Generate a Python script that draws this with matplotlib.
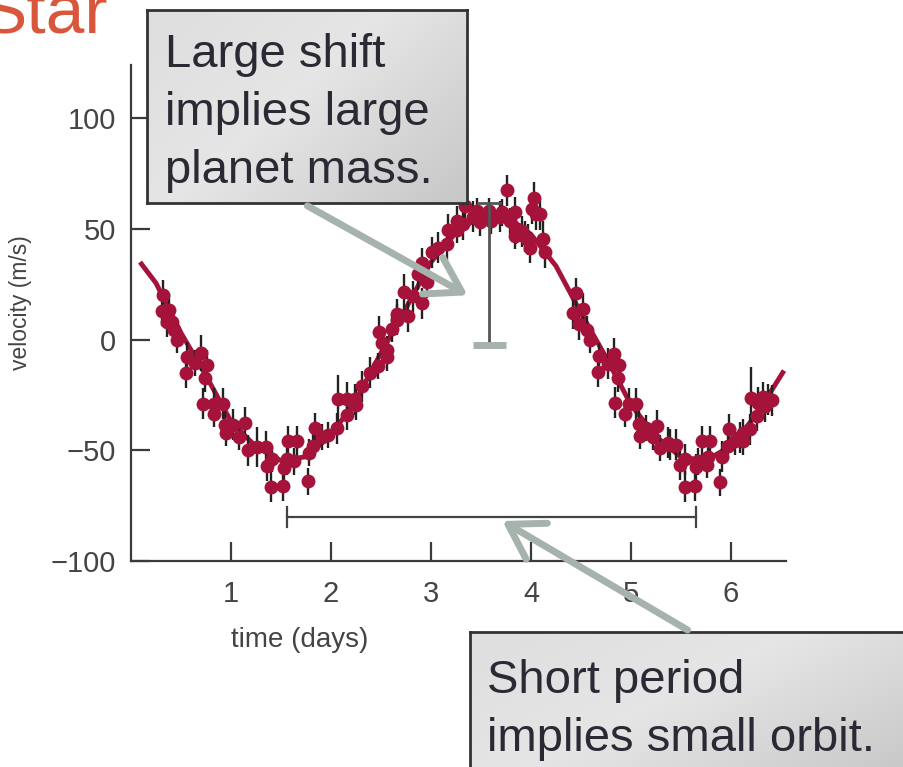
import numpy as np
import matplotlib
matplotlib.use("Agg")
import matplotlib.pyplot as plt
from matplotlib.patches import FancyArrowPatch

plt.rcParams['font.family'] = ['Liberation Sans', 'DejaVu Sans']

time_days = [0.32, 0.31, 0.38, 0.36, 0.41, 0.43, 0.46, 0.56, 0.70, 0.64, 0.76, 0.55, 0.74,
             0.72, 0.83, 0.92, 0.83, 0.94, 1.02, 0.95, 1.08, 1.14, 1.17, 1.26, 1.35, 1.41,
             1.36, 1.40, 1.52, 1.53, 1.56, 1.57, 1.66, 1.63, 1.77, 1.78, 1.84, 1.82, 1.91,
             1.97, 2.06, 2.16, 2.07, 2.16, 2.24, 2.25, 2.31, 2.39, 2.47, 2.56, 2.56, 2.51,
             2.48, 2.61, 2.66, 2.66, 2.77, 2.73, 2.82, 2.91, 2.87, 2.96, 2.91, 3.01, 3.07,
             3.16, 3.17, 3.26, 3.26, 3.32, 3.34, 3.42, 3.46, 3.49, 3.58, 3.60, 3.69, 3.71,
             3.76, 3.84, 3.79, 3.85, 3.91, 3.84, 3.94, 3.97, 3.99, 4.03, 4.01, 4.05, 4.09,
             4.12, 4.14, 4.45, 4.42, 4.52, 4.48, 4.56, 4.59, 4.68, 4.67, 4.77, 4.83, 4.88,
             4.87, 4.84, 4.98, 5.05, 4.94, 5.08, 5.15, 5.09, 5.26, 5.22, 5.29, 5.37, 5.45,
             5.39, 5.49, 5.54, 5.54, 5.64, 5.65, 5.67, 5.71, 5.79, 5.76, 5.77, 5.89, 5.91,
             5.97, 5.98, 6.04, 6.09, 6.12, 6.12, 6.19, 6.20, 6.26, 6.27, 6.32, 6.34, 6.37,
             6.41]
velocity_ms = [20, 13, 13.5, 8, 8, 4.5, 0, -8, -6, -10.5, -11.5, -15, -17.5,
               -29, -29, -29, -33.5, -38.5, -38.5, -42, -44, -37.5, -50, -48.5, -48.5, -54,
               -57, -66.5, -66, -58, -54, -46, -46, -55, -64, -51, -40, -48, -44,
               -43, -40, -34, -27, -27, -27, -29.5, -21, -15, -12, -8, -4.5, -1.5,
               3.5, 5, 9, 11.5, 10.5, 21.5, 19.5, 16.5, 29.5, 26, 34.5, 39.5, 41.5,
               43, 49.5, 53.5, 49.5, 52, 60.5, 55.5, 58, 53, 58, 53.5, 55.5, 57.5,
               67.5, 57.5, 53.5, 50, 49, 47, 46.5, 45, 41.5, 64, 59, 56.5, 56.5,
               45.5, 39.5, 21, 12, 14, 7, 4.5, 0, -7.5, -14.5, -11, -6.5, -11.5,
               -17.5, -28.5, -29, -29, -33.5, -38, -40, -43.5, -39, -44, -49, -46.5, -47.5,
               -47.5, -56.5, -54, -66.5, -66, -57.5, -55, -46, -46, -56.5, -53, -64.5, -53,
               -48, -40.5, -46, -44, -46, -42, -40.5, -26.5, -34.5, -28.5, -26, -30, -27,
               -27.5]
velocity_err = [7, 7, 7, 7, 6, 6, 6, 7, 8, 6, 7, 7, 6,
                7, 7, 7, 6, 7, 7, 6, 6, 7, 7, 9, 7, 6,
                7, 7, 7, 6, 7, 7, 7, 6, 6, 6, 7, 6, 6,
                6, 7, 7, 11, 8, 7, 7, 7, 7, 6, 6, 6, 6,
                7, 6, 7, 7, 7, 8, 7, 7, 7, 7, 7, 7, 7,
                7, 7, 7, 6, 7, 7, 7, 6, 6, 6, 6, 7, 6,
                7, 7, 6, 7, 7, 6, 7, 7, 7, 7, 7, 7, 7,
                8, 7, 7, 7, 7, 7, 6, 6, 6, 7, 7, 7, 6,
                6, 7, 7, 7, 6, 6, 6, 6, 7, 6, 6, 7, 7,
                7, 7, 7, 7, 7, 6, 6, 7, 7, 6, 6, 6, 7,
                6, 7, 6, 7, 6, 6, 7, 14, 7, 7, 7, 7, 7,
                7]

# ---- fitted orbit curve ----
fit_time = [0.09, 0.25, 0.5, 0.75, 1.0, 1.25, 1.5, 1.75, 2.0, 2.25, 2.5, 2.75, 3.0, 3.25,
            3.5, 3.75, 4.0, 4.25, 4.5, 4.75, 5.0, 5.25, 5.5, 5.75, 6.0, 6.25, 6.53]
fit_velocity = [35, 25.5, 3, -16.3, -37, -48.4, -54.7, -52.9, -43.2, -27.3, -6, 14.2, 35,
                48.3, 56, 55.9, 47.5, 33.2, 12, -8, -29.5, -43.8, -53.1, -54.6, -48, -34.2, -14]

x_ticks = [1, 2, 3, 4, 5, 6]
y_ticks = [-100, -50, 0, 50, 100]

# shift and period markers
shift_t, shift_low, shift_high = 3.58, -2.3, 61.8
period_start, period_end, period_level = 1.56, 5.65, -80

RED = '#A5123A'
ARROW = '#A6B2AC'
DARK = '#3a3a3a'
W, H = 904, 767

fig = plt.figure(figsize=(W / 100, H / 100), dpi=100)
ax = fig.add_axes([131 / W, 1 - 561 / H, 655 / W, 496 / H])
ax.set_xlim(0, 6.55)
ax.set_ylim(-100, 124)
for s in ['top', 'right']:
    ax.spines[s].set_visible(False)
for s in ['left', 'bottom']:
    ax.spines[s].set_color(DARK)
    ax.spines[s].set_linewidth(1.6)
ax.set_xticks(x_ticks)
ax.set_yticks(y_ticks)
ax.tick_params(direction='in', length=14, width=1.6, color=DARK,
               labelsize=21, labelcolor='#444444')
ax.tick_params(axis='x', pad=14)
ax.tick_params(axis='y', pad=11)

ax.plot(fit_time, fit_velocity, color=RED, lw=3.5, zorder=2, solid_capstyle='butt',
        solid_joinstyle='round')
ax.errorbar(time_days, velocity_ms, yerr=velocity_err, fmt='none',
            ecolor='#222222', elinewidth=1.7, capsize=0, zorder=3)
ax.plot(time_days, velocity_ms, 'o', color=RED, ms=10, mec=RED, mew=0, zorder=4)

# shift bar
ax.plot([shift_t, shift_t], [shift_low, shift_high], color='#555555', lw=2, zorder=5)
ax.plot([shift_t - 0.11, shift_t + 0.11], [shift_high, shift_high], color='#555555', lw=2, zorder=5)
ax.plot([shift_t - 0.16, shift_t + 0.17], [shift_low, shift_low], color=ARROW, lw=5,
        zorder=5, solid_capstyle='butt')

# period bar
ax.plot([period_start, period_end], [period_level, period_level], color='#444444', lw=1.6)
for pt in (period_start, period_end):
    ax.plot([pt, pt], [period_level - 4.5, period_level + 4.5], color='#444444', lw=1.6)

# labels
fig.text(300 / W, 1 - 640 / H, 'time (days)', ha='center', va='center',
         fontsize=20, color='#444444')
fig.text(21 / W, 1 - 303 / H, 'velocity (m/s)', ha='center', va='center',
         rotation=90, fontsize=16.5, color='#444444')

# title fragment (cut at the top edge, as in the reference)
fig.text(108 / W, 1 - 33 / H, 'Star', ha='right', va='baseline', fontsize=50,
         color='#D9553C')


def gradient_box(x0, y0, x1, y1, lines, text_x, baselines):
    bax = fig.add_axes([x0 / W, 1 - y1 / H, (x1 - x0) / W, (y1 - y0) / H])
    xs = np.linspace(0, 1, 256)
    ys = np.linspace(0, 1, 64)
    X, Y = np.meshgrid(xs, ys)
    d = 0.6 * X + 0.4 * Y
    v = 0.90 - 0.12 * np.clip((d - 0.45) / 0.55, 0, 1) - 0.03 * np.clip((0.45 - d) / 0.45, 0, 1)
    img = np.dstack([v, v, v])
    bax.imshow(img, extent=[0, 1, 0, 1], aspect='auto', origin='upper', zorder=0)
    bax.set_xlim(0, 1)
    bax.set_ylim(0, 1)
    bax.set_xticks([])
    bax.set_yticks([])
    for s in bax.spines.values():
        s.set_color('#333333')
        s.set_linewidth(2)
    for line, b in zip(lines, baselines):
        bax.text((text_x - x0) / (x1 - x0), 1 - (b - y0) / (y1 - y0), line,
                 ha='left', va='baseline', fontsize=34, color='#2a2a35',
                 transform=bax.transAxes)
    return bax


gradient_box(147, 10, 467, 203, ['Large shift', 'implies large', 'planet mass.'], 165,
             [67, 125, 183])
gradient_box(470, 632, 905, 780, ['Short period', 'implies small orbit.'], 487,
             [693, 751])

# arrows
a1 = FancyArrowPatch((1.74, 61), (3.39, 19.4), transform=ax.transData,
                     arrowstyle='->,head_length=1.2,head_width=0.75', mutation_scale=20,
                     color=ARROW, lw=5, clip_on=False, zorder=6)
a2 = FancyArrowPatch((5.59, -131.8), (3.69, -81.3), transform=ax.transData,
                     arrowstyle='->,head_length=1.2,head_width=0.75', mutation_scale=20,
                     color=ARROW, lw=5, clip_on=False, zorder=6)
fig.add_artist(a1)
fig.add_artist(a2)

fig.savefig('out.png', dpi=100)
